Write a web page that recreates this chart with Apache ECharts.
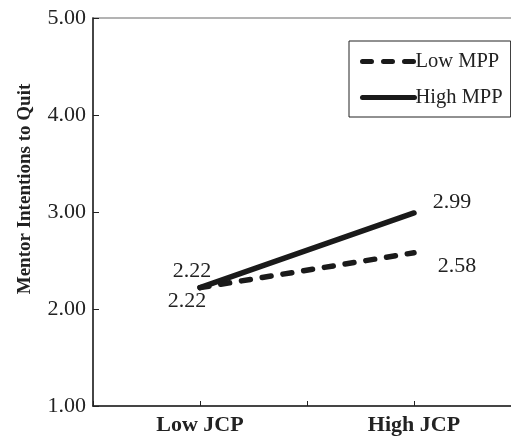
<!DOCTYPE html>
<html>
<head>
<meta charset="utf-8">
<script src="https://cdn.jsdelivr.net/npm/echarts@6/dist/echarts.min.js"></script>
<style>
html,body{margin:0;padding:0;background:#fff;}
#chart{width:511px;height:436px;}
</style>
</head>
<body>
<div id="chart"></div>
<script>
const categories = ['Low JCP', 'High JCP'];
const seriesNames = ['Low MPP', 'High MPP'];
const lowMPP = [2.22, 2.58];
const highMPP = [2.22, 2.99];
const yTicks = [1, 2, 3, 4, 5];
const yTitle = 'Mentor Intentions to Quit';

const serif = '"Liberation Serif", "Times New Roman", serif';
const ink = '#1a1a1a';

function withLabels(values, offsets) {
  return values.map((v, i) => ({
    value: v,
    label: { offset: offsets[i] }
  }));
}

const chart = echarts.init(document.getElementById('chart'), null, { renderer: 'canvas' });
chart.setOption({
  backgroundColor: '#fff',
  animation: false,
  grid: {
    left: 93, top: 18, bottom: 30, width: 428,
    outerBoundsMode: 'none',
    containLabel: false,
    show: true, borderColor: '#9a9a9a', borderWidth: 1.5
  },
  legend: {
    orient: 'vertical',
    left: 349, top: 41,
    padding: [10, 8, 9, 11],
    itemGap: 15,
    itemWidth: 52, itemHeight: 14,
    borderColor: '#222', borderWidth: 1,
    backgroundColor: '#fff',
    textStyle: { fontFamily: serif, fontSize: 20.5, color: '#222', padding: [0, 0, 0, -4] },
    itemStyle: { opacity: 0 },
    lineStyle: { width: 5, cap: 'round' },
    data: seriesNames
  },
  xAxis: [{
    type: 'category',
    data: categories,
    boundaryGap: true,
    position: 'bottom',
    axisLine: { lineStyle: { color: '#222', width: 1.5 } },
    axisTick: { show: true, inside: true, alignWithLabel: true, length: 5, lineStyle: { color: '#222', width: 1 } },
    axisLabel: { fontFamily: serif, fontSize: 22, fontWeight: 'bold', color: '#222', margin: 8 },
    splitLine: { show: false }
  }, {
    type: 'category',
    data: categories,
    boundaryGap: true,
    position: 'bottom',
    axisLine: { show: false },
    axisTick: { show: true, inside: true, length: 5, lineStyle: { color: '#222', width: 1 } },
    axisLabel: { show: false },
    splitLine: { show: false }
  }],
  yAxis: {
    type: 'value',
    min: yTicks[0], max: yTicks[yTicks.length - 1], interval: 1,
    name: yTitle,
    nameLocation: 'middle',
    nameGap: 58,
    nameTextStyle: { fontFamily: serif, fontSize: 19, fontWeight: 'bold', color: '#222', padding: [0, 0, 0, 46] },
    axisLine: { show: true, lineStyle: { color: '#222', width: 1.5 } },
    axisTick: { show: true, inside: true, length: 6, lineStyle: { color: '#222', width: 1 } },
    axisLabel: { fontFamily: serif, fontSize: 22, color: '#222', margin: 7, formatter: v => v.toFixed(2) },
    splitLine: { show: false }
  },
  series: [{
    name: seriesNames[1],
    type: 'line',
    xAxisIndex: 0,
    data: withLabels(highMPP, [[-8, -16], [38, -11]]),
    symbol: 'circle', symbolSize: 0.1, showSymbol: true,
    itemStyle: { color: ink },
    lineStyle: { color: ink, width: 5.5, type: 'solid', cap: 'round' },
    label: { show: true, position: 'inside', align: 'center', verticalAlign: 'middle',
      fontFamily: serif, fontSize: 22, color: '#222', formatter: p => p.value.toFixed(2) },
    z: 3
  }, {
    name: seriesNames[0],
    type: 'line',
    xAxisIndex: 0,
    data: withLabels(lowMPP, [[-13, 14], [43, 13]]),
    symbol: 'circle', symbolSize: 0.1, showSymbol: true,
    itemStyle: { color: ink },
    lineStyle: { color: ink, width: 5.5, type: [9, 12], cap: 'round' },
    label: { show: true, position: 'inside', align: 'center', verticalAlign: 'middle',
      fontFamily: serif, fontSize: 22, color: '#222', formatter: p => p.value.toFixed(2) },
    z: 3
  }]
});
</script>
</body>
</html>
